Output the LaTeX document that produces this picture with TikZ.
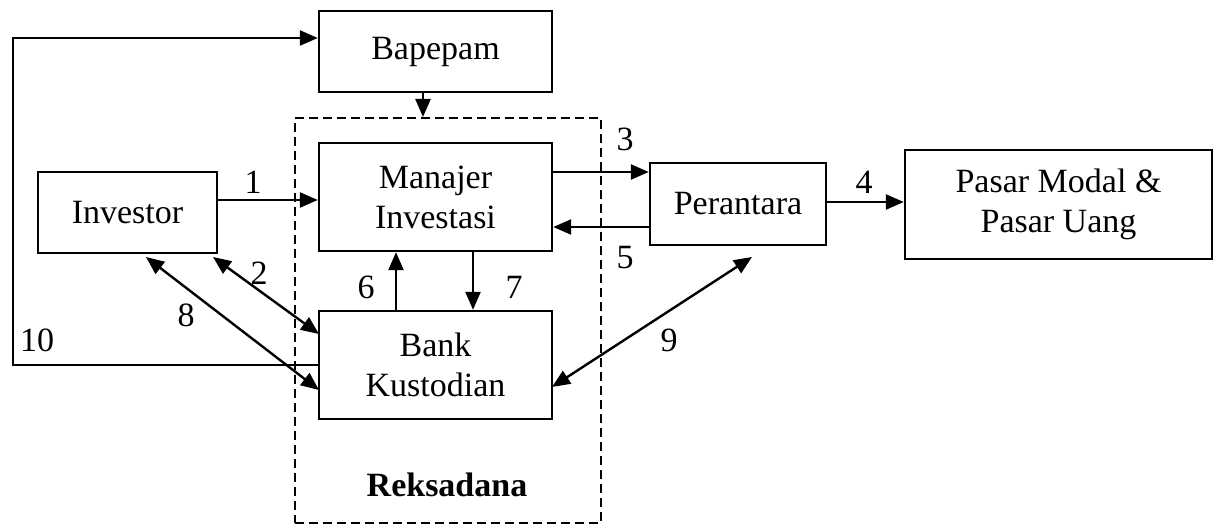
\documentclass[tikz,border=0pt]{standalone}
\usepackage{fontspec}
\setmainfont{Liberation Serif}
\usetikzlibrary{arrows.meta,calc}
\begin{document}
\begin{tikzpicture}[x=1pt,y=-1pt,
  every node/.style={font=\fontsize{34}{40}\selectfont},
  box/.style={draw,line width=2.4pt,align=center,inner sep=0pt},
  arr/.style={line width=2.4pt,-{Triangle[length=18pt,width=15pt]}},
  darr/.style={line width=2.4pt,{Triangle[length=18pt,width=15pt]}-{Triangle[length=18pt,width=15pt]}},
  lbl/.style={inner sep=0pt}]
\useasboundingbox (0,0) rectangle (1218,526);
% dashed group
\node[draw,dash pattern=on 9pt off 5pt,line width=2pt,minimum width=306pt,minimum height=405pt,inner sep=0pt] (reks) at (448,320.5) {};
\node[box,minimum width=233pt,minimum height=81pt] (bap) at (435.5,51.5) {Bapepam};
\node[box,minimum width=233pt,minimum height=108pt] (mi) at (435.5,197) {Manajer\\Investasi};
\node[box,minimum width=233pt,minimum height=108pt] (bk) at (435.5,365) {Bank\\Kustodian};
\node[box,minimum width=179pt,minimum height=81pt] (inv) at (127.5,212.5) {Investor};
\node[box,minimum width=176pt,minimum height=82pt] (per) at (738,204) {Perantara};
\node[box,minimum width=307pt,minimum height=109pt] (pm) at (1058.5,204.5) {Pasar Modal \&\\Pasar Uang};
% coordinates
\coordinate (c10a) at (13,365);
\coordinate (c10b) at (13,38);
\coordinate (cb) at (423,0);
\coordinate (y1) at (0,200);
\coordinate (y3) at (0,172);
\coordinate (y5) at (0,227);
\coordinate (y4) at (0,202);
\coordinate (x6) at (396,0);
\coordinate (x7) at (473,0);
\coordinate (a2) at (213,257);
\coordinate (b2) at (319,334);
\coordinate (a8) at (146,257);
\coordinate (b8) at (319,390);
\coordinate (a9) at (752,257);
\coordinate (b9) at (552,387);
% connectors
\draw[arr] (bk.west) -- (c10a) -- (c10b) -- (bap.west |- c10b);
\draw[arr] (bap.south -| cb) -- (reks.north -| cb);
\draw[arr] (inv.east |- y1) -- (mi.west |- y1);
\draw[arr] (mi.east |- y3) -- (per.west |- y3);
\draw[arr] (per.west |- y5) -- (mi.east |- y5);
\draw[arr] (per.east |- y4) -- (pm.west |- y4);
\draw[arr] (bk.north -| x6) -- (mi.south -| x6);
\draw[arr] (mi.south -| x7) -- (bk.north -| x7);
\draw[darr] (a2) -- (b2);
\draw[darr] (a8) -- (b8);
\draw[darr] (a9) -- (b9);
% labels
\node[lbl] (l1) at (253,182) {1};
\node[lbl] (l2) at (259,273) {2};
\node[lbl] (l3) at (625,139) {3};
\node[lbl] (l4) at (864,182) {4};
\node[lbl] (l5) at (625,258) {5};
\node[lbl] (l6) at (366,287) {6};
\node[lbl] (l7) at (514,287) {7};
\node[lbl] (l8) at (186,315) {8};
\node[lbl] (l9) at (669,340) {9};
\node[lbl] (l10) at (37,340) {10};
\node[lbl,font=\fontsize{34}{40}\selectfont\bfseries] (lr) at (447,485) {Reksadana};
\end{tikzpicture}
\end{document}
